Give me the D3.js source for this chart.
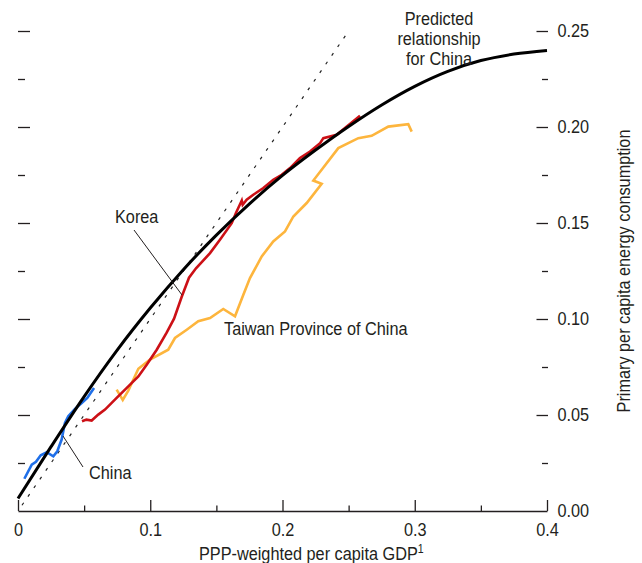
<!DOCTYPE html>
<html>
<head>
<meta charset="utf-8">
<script src="https://cdn.jsdelivr.net/npm/d3@7"></script>
<style>
  html, body { margin: 0; padding: 0; background: #fff; }
  svg { display: block; }
  text { font-family: "Liberation Sans", Arial, sans-serif; fill: #231f20; }
</style>
</head>
<body>
<svg id="chart" width="642" height="563"></svg>
<script>
// Per capita GDP (PPP-weighted) and primary energy consumption per capita
const chinaGdp    = [0.0048, 0.0104, 0.0136, 0.0172, 0.0217, 0.0267, 0.0297, 0.0330, 0.0355, 0.0380, 0.0431, 0.0482, 0.0524, 0.0575];
const chinaEnergy = [0.0168, 0.0242, 0.0256, 0.0290, 0.0306, 0.0285, 0.0311, 0.0372, 0.0459, 0.0493, 0.0532, 0.0563, 0.0589, 0.0641];

const koreaGdp    = [0.0484, 0.0518, 0.0557, 0.0607, 0.0658, 0.0746, 0.0834, 0.0910, 0.0973, 0.1049, 0.1124, 0.1180,
                     0.1238, 0.1293, 0.1346, 0.1452, 0.1527, 0.1616, 0.1648, 0.1692, 0.1699, 0.1729, 0.1779, 0.1855,
                     0.1930, 0.1994, 0.2057, 0.2132, 0.2208, 0.2284, 0.2309, 0.2410, 0.2486, 0.2586];
const koreaEnergy = [0.0467, 0.0476, 0.0471, 0.0502, 0.0528, 0.0589, 0.0649, 0.0701, 0.0762, 0.0840, 0.0929, 0.1002,
                     0.1116, 0.1215, 0.1264, 0.1343, 0.1413, 0.1499, 0.1552, 0.1617, 0.1595, 0.1621, 0.1647, 0.1682,
                     0.1725, 0.1751, 0.1786, 0.1838, 0.1872, 0.1916, 0.1942, 0.1959, 0.2002, 0.2058];

const taiwanGdp    = [0.0746, 0.0792, 0.0834, 0.0910, 0.0998, 0.1136, 0.1187, 0.1276, 0.1363, 0.1452, 0.1552, 0.1641,
                      0.1704, 0.1754, 0.1843, 0.1930, 0.2019, 0.2082, 0.2183, 0.2296, 0.2233, 0.2422, 0.2573, 0.2674,
                      0.2800, 0.2951, 0.2977];
const taiwanEnergy = [0.0632, 0.0578, 0.0627, 0.0741, 0.0788, 0.0840, 0.0901, 0.0944, 0.0988, 0.1005, 0.1052, 0.1014,
                      0.1126, 0.1213, 0.1326, 0.1404, 0.1456, 0.1534, 0.1604, 0.1704, 0.1721, 0.1890, 0.1942, 0.1954,
                      0.2002, 0.2015, 0.1976];

// Predicted relationship for China
const predGdp    = [0, 0.025, 0.05, 0.075, 0.1, 0.125, 0.15, 0.175, 0.2, 0.225, 0.25, 0.275, 0.3, 0.325, 0.35, 0.375, 0.4];
const predEnergy = [0.0065, 0.0335, 0.0596, 0.0838, 0.1057, 0.1257, 0.1437, 0.1600, 0.1748, 0.1880, 0.2003, 0.2115,
                    0.2212, 0.2290, 0.2346, 0.2380, 0.2399];

// 45-degree reference line
const diagGdp    = [0.003, 0.249];
const diagEnergy = [0.003, 0.249];

const xMajorTicks = [0, 0.1, 0.2, 0.3, 0.4];
const xMinorTicks = [0.05, 0.15, 0.25, 0.35];
const xTickLabels = ["0", "0.1", "0.2", "0.3", "0.4"];
const yMajorTicks = [0, 0.05, 0.10, 0.15, 0.20, 0.25];
const yMinorTicks = [0.025, 0.075, 0.125, 0.175, 0.225];
const yTickLabels = ["0.00", "0.05", "0.10", "0.15", "0.20", "0.25"];

const zip = (xs, ys) => xs.map((v, i) => [v, ys[i]]);

const svg = d3.select("#chart");
const x = d3.scaleLinear().domain([0, 0.4]).range([18, 547]);
const y = d3.scaleLinear().domain([0, 0.25]).range([511, 31]);

const ink = "#231f20";
const FS = 18.5;  // label font size
const SX = 0.88;  // horizontal compression for a condensed look

// compress a text element horizontally around its own anchor point
function narrow(el) {
  const tx = +el.getAttribute("x") || 0;
  const ty = +el.getAttribute("y") || 0;
  el.setAttribute("x", 0);
  el.setAttribute("y", 0);
  const prior = el.getAttribute("transform") || "";
  el.setAttribute("transform", `${prior} translate(${tx},${ty}) scale(${SX},1)`);
}

// x axis: major and minor ticks pointing up into the plot
svg.append("g").attr("transform", `translate(0,${y(0)})`)
  .call(d3.axisBottom(x).tickValues(xMajorTicks).tickSizeInner(-11).tickSizeOuter(0).tickPadding(12)
        .tickFormat((d, i) => xTickLabels[i]));
svg.append("g").attr("transform", `translate(0,${y(0)})`)
  .call(d3.axisBottom(x).tickValues(xMinorTicks).tickSizeInner(-5.5).tickSizeOuter(0).tickFormat(""))
  .select(".domain").remove();

// left ticks (no labels)
const yLeftMajor = svg.append("g").attr("transform", `translate(${x(0)},0)`)
  .call(d3.axisLeft(y).tickValues(yMajorTicks.filter(v => v > 0)).tickSizeInner(-12).tickSizeOuter(0).tickFormat(""));
const yLeftMinor = svg.append("g").attr("transform", `translate(${x(0)},0)`)
  .call(d3.axisLeft(y).tickValues(yMinorTicks).tickSizeInner(-7).tickSizeOuter(0).tickFormat(""));

// right ticks with labels
const yRightMajor = svg.append("g").attr("transform", `translate(${x(0.4) + 1},0)`)
  .call(d3.axisRight(y).tickValues(yMajorTicks.filter(v => v > 0)).tickSizeInner(-11.5).tickSizeOuter(0).tickPadding(9.5)
        .tickFormat(d => yTickLabels[yMajorTicks.indexOf(d)]));
const yRightMinor = svg.append("g").attr("transform", `translate(${x(0.4) + 1},0)`)
  .call(d3.axisRight(y).tickValues(yMinorTicks).tickSizeInner(-6).tickSizeOuter(0).tickFormat(""));
svg.append("g").attr("transform", `translate(${x(0.4) + 1},0)`)
  .call(d3.axisRight(y).tickValues([0]).tickSize(0).tickPadding(9.5).tickFormat(() => yTickLabels[0]))
  .select(".domain").remove();

[yLeftMajor, yLeftMinor, yRightMajor, yRightMinor].forEach(g => g.select(".domain").remove());

svg.selectAll(".tick line").attr("stroke", ink).attr("stroke-width", 1.3);
svg.selectAll(".domain").attr("stroke", ink).attr("stroke-width", 1.3);
svg.selectAll(".tick text").attr("font-size", FS).attr("fill", ink)
  .style("font-family", '"Liberation Sans", Arial, sans-serif');

// axis titles
const xTitle = svg.append("text").attr("x", 199).attr("y", 560).attr("font-size", FS);
xTitle.append("tspan").text("PPP-weighted per capita GDP");
xTitle.append("tspan").attr("font-size", 12).attr("dy", -7).text("1");

svg.append("text")
  .attr("transform", "translate(630,271) rotate(-90)")
  .attr("text-anchor", "middle").attr("font-size", FS)
  .text("Primary per capita energy consumption");

const line = d3.line().x(d => x(d[0])).y(d => y(d[1]));

// 45-degree line
svg.append("path").datum(zip(diagGdp, diagEnergy))
  .attr("d", line).attr("fill", "none").attr("stroke", "#222")
  .attr("stroke-width", 1.2).attr("stroke-dasharray", "3,7.5");

// country paths
svg.append("path").datum(zip(taiwanGdp, taiwanEnergy))
  .attr("d", line).attr("fill", "none").attr("stroke", "#fdb53d").attr("stroke-width", 2.6);
svg.append("path").datum(zip(koreaGdp, koreaEnergy))
  .attr("d", line).attr("fill", "none").attr("stroke", "#cc1016").attr("stroke-width", 2.6);
svg.append("path").datum(zip(chinaGdp, chinaEnergy))
  .attr("d", line).attr("fill", "none").attr("stroke", "#1f6fe8").attr("stroke-width", 2.6);

// predicted relationship
svg.append("path").datum(zip(predGdp, predEnergy))
  .attr("d", d3.line().curve(d3.curveMonotoneX).x(d => x(d[0])).y(d => y(d[1])))
  .attr("fill", "none").attr("stroke", "#000").attr("stroke-width", 3);

// labels and leader lines
svg.append("line").attr("x1", 134).attr("y1", 230).attr("x2", 182).attr("y2", 295)
  .attr("stroke", ink).attr("stroke-width", 1);
svg.append("line").attr("x1", 63).attr("y1", 436).attr("x2", 83).attr("y2", 467)
  .attr("stroke", ink).attr("stroke-width", 1);

svg.append("text").attr("x", 115).attr("y", 223).attr("font-size", FS).text("Korea");
svg.append("text").attr("x", 89).attr("y", 479).attr("font-size", FS).text("China");
svg.append("text").attr("x", 224).attr("y", 335).attr("font-size", FS).text("Taiwan Province of China");

const pred = svg.append("text").attr("x", 439).attr("y", 0).attr("text-anchor", "middle").attr("font-size", FS);
["Predicted", "relationship", "for China"].forEach((t, i) =>
  pred.append("tspan").attr("x", 0).attr("y", 25 + i * 20).text(t));

// apply the condensed look to every label
svg.selectAll("text").each(function () { narrow(this); });
</script>
</body>
</html>
